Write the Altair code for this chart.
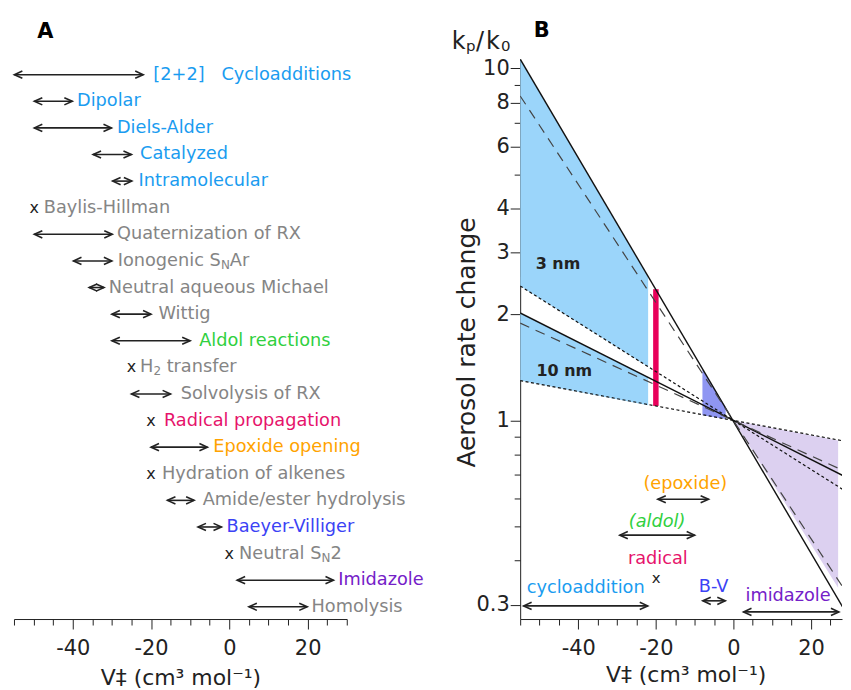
import altair as alt
import pandas as pd

FONT = "DejaVu Sans"
INK = "#222222"
BLUE = "#1a9cf0"
GREY = "#858585"
GREEN = "#30d040"
PINK = "#e6136b"
ORANGE = "#ffa300"
BVC = "#3b42f5"
PURPLE = "#7420c8"

# ---------------- Panel A data ----------------
a_labels = [
    "[2+2]\u00a0\u00a0\u00a0Cycloadditions", "Dipolar", "Diels-Alder", "Catalyzed", "Intramolecular",
    "Baylis-Hillman", "Quaternization of RX", "Ionogenic S|N|Ar", "Neutral aqueous Michael", "Wittig",
    "Aldol reactions", "H|2| transfer", "Solvolysis of RX", "Radical propagation", "Epoxide opening",
    "Hydration of alkenes", "Amide/ester hydrolysis", "Baeyer-Villiger", "Neutral S|N|2", "Imidazole",
    "Homolysis",
]
a_kind = ["arrow", "arrow", "arrow", "arrow", "arrow", "x", "arrow", "arrow", "arrow", "arrow",
          "arrow", "x", "arrow", "x", "arrow", "x", "arrow", "arrow", "x", "arrow", "arrow"]
a_lo = [-54.9, -49.8, -49.8, -34.8, -29.8, -49.8, -49.8, -39.8, -35.8, -30.0,
        -30.0, -25.0, -25.0, -20.0, -20.0, -20.0, -15.8, -8.0, 0.0, 2.0, 5.0]
a_hi = [-22.0, -40.1, -30.1, -25.0, -24.9, -49.8, -29.9, -30.0, -32.0, -20.0,
        -10.0, -25.0, -15.0, -20.0, -5.6, -20.0, -9.0, -2.0, 0.0, 26.6, 19.9]
a_label_x = [-19.4, -38.9, -28.7, -22.8, -23.2, -47.4, -28.7, -28.5, -30.8, -18.1,
             -7.7, -22.8, -12.4, -16.7, -4.1, -17.2, -6.8, -0.7, 2.5, 27.8, 21.0]
a_color = [BLUE] * 5 + [GREY] * 5 + [GREEN] + [GREY] * 2 + [PINK, ORANGE, GREY, GREY, BVC, GREY, PURPLE, GREY]

# ---------------- Panel B data ----------------
line_names = ["L1", "L2", "L3", "L4", "L5", "L6"]
line_style = ["solid", "dashed", "dotted", "solid", "dashed", "dotted"]
line_v = [-55, 30]
line_left = [10.63, 8.35, 2.41, 2.02, 1.89, 1.298]     # k at V = -55
line_right = [0.273, 0.314, 0.619, 0.682, 0.707, 0.868]  # k at V = 30

fill_names = ["3 nm", "10 nm", "B-V", "imidazole"]
fill_x0 = [-55, -55, -8.0, 0.0]
fill_x1 = [-22.0, -22.0, -2.0, 27.0]
fill_top0 = [10.63, 2.02, 1.40, 1.0]
fill_top1 = [2.56, 1.33, 1.09, 0.878]
fill_bot0 = [2.41, 1.30, 1.035, 1.0]
fill_bot1 = [1.42, 1.105, 1.01, 0.335]
fill_color = ["#9bd5fa", "#9bd5fa", "#8f96f2", "#dcd0f0"]

radical_v = -20.0
radical_lo, radical_hi = 1.10, 2.36

ann_text = ["(epoxide)", "(aldol)", "radical", "cycloaddition", "B-V", "imidazole"]
ann_x = [-12.4, -19.7, -19.5, -38.1, -5.1, 14.1]
ann_y = [0.658, 0.5156, 0.405, 0.334, 0.336, 0.3175]
ann_color = [ORANGE, GREEN, PINK, BLUE, BVC, PURPLE]

barr_lo = [-19.5, -29.3, -54.1, -7.9, 2.6]
barr_hi = [-6.4, -10.0, -22.1, -2.1, 27.2]
barr_y = [0.5975, 0.4725, 0.2975, 0.3075, 0.286]

radical_mark_x, radical_mark_y = [-19.9], [0.358]

size_text = ["3 nm", "10 nm"]
size_x = [-51.0, -50.8]
size_y = [2.787, 1.379]

# ---------------- layout helpers ----------------
A_W, A_H = 334, 562
B_W, B_H = 323, 562
B_XMAX = 28
FS = 17.8
FS_SUB = 12
ADV = {"I": .295, "o": .612, "n": .634, "g": .635, "e": .615, "i": .278, "c": .550, " ": .318,
       "\u00a0": .318, "S": .635, "N": .748, "H": .752, "2": .636, "u": .634, "t": .392, "r": .411,
       "a": .613, "l": .278}


def text_w(s, fs):
    return sum(ADV.get(ch, 0.6) for ch in s) * fs


LEFT_HEAD = "M2,-0.9L0,0L2,0.9"
RIGHT_HEAD = "M-2,-0.9L0,0L-2,0.9"

xsA = alt.Scale(domain=[-55, 30], nice=False, zero=False)
ysA = alt.Scale(domain=[-0.588, 20.46], reverse=True, nice=False, zero=False)
xsB = alt.Scale(domain=[-55, B_XMAX], nice=False, zero=False)
ysB = alt.Scale(type="log", domain=[0.273, 10.63], nice=False)

major_x = [-40, -20, 0, 20]
XTITLE = "V\u2021 (cm\u00b3 mol\u207b\u00b9)"


def x_major_axis(title_y, title_x=None):
    kw = dict(orient="bottom", values=major_x, tickSize=10, labelPadding=9,
              labelExpr="'' + datum.value", title=XTITLE, titleFontSize=22,
              titleY=title_y, titleBaseline="alphabetic", grid=False, labelFlush=False)
    if title_x is not None:
        kw["titleX"] = title_x
        kw["titleAlign"] = "center"
    return alt.Axis(**kw)


def x_minor_axis(xmax):
    vals = [v for v in range(-55, xmax + 1, 5) if v not in major_x]
    return alt.Axis(orient="bottom", values=vals, tickSize=6, labels=False, domain=False,
                    title=None, grid=False)


# ---------------- Panel A ----------------
rows = list(range(len(a_labels)))
arrA = pd.DataFrame([{"row": r, "lo": a_lo[r], "hi": a_hi[r]} for r in rows if a_kind[r] == "arrow"])
mkA = pd.DataFrame([{"row": r, "v": a_lo[r]} for r in rows if a_kind[r] == "x"])

segs = []
for r in rows:
    parts = a_labels[r].split("|")
    off = 0.0
    for j, p in enumerate(parts):
        sub = (j % 2 == 1)
        fs = FS_SUB if sub else FS
        lead = len(p) - len(p.lstrip(" "))
        off += lead * ADV[" "] * FS
        p = p.lstrip(" ")
        segs.append({"row": r, "v": a_label_x[r] + off * 85.0 / A_W, "t": p, "c": a_color[r], "sub": sub})
        off += text_w(p, fs)
segs = pd.DataFrame(segs)

yA = alt.Y("row:Q", scale=ysA, axis=None)

a_rule = alt.Chart(arrA).mark_rule(color=INK, strokeWidth=1.6).encode(
    x=alt.X("lo:Q", scale=xsA, axis=x_major_axis(66)), x2="hi:Q", y=yA)
a_lh = alt.Chart(arrA).mark_point(shape=LEFT_HEAD, filled=False, size=64, strokeWidth=1.6,
                                  color=INK, opacity=1).encode(
    x=alt.X("lo:Q", scale=xsA, axis=x_minor_axis(30)), y=yA)
a_rh = alt.Chart(arrA).mark_point(shape=RIGHT_HEAD, filled=False, size=64, strokeWidth=1.6,
                                  color=INK, opacity=1).encode(
    x=alt.X("hi:Q", scale=xsA, axis=None), y=yA)
a_x = alt.Chart(mkA).mark_text(text="x", fontSize=16, color=INK, baseline="middle").encode(
    x=alt.X("v:Q", scale=xsA, axis=None), y=yA)
a_main = alt.Chart(segs[~segs["sub"]]).mark_text(align="left", baseline="middle", fontSize=FS).encode(
    x=alt.X("v:Q", scale=xsA, axis=None), y=yA, text="t:N", color=alt.Color("c:N", scale=None))
a_sub = alt.Chart(segs[segs["sub"]]).mark_text(align="left", baseline="middle", fontSize=FS_SUB, dy=4).encode(
    x=alt.X("v:Q", scale=xsA, axis=None), y=yA, text="t:N", color=alt.Color("c:N", scale=None))
a_tag = alt.Chart(pd.DataFrame({"t": ["A"]})).mark_text(
    fontSize=21, fontWeight="bold", align="left", baseline="alphabetic", color="#000").encode(
    x=alt.value(23.3), y=alt.value(-21), text="t:N")

panelA = alt.layer(a_rule, a_lh, a_rh, a_x, a_main, a_sub, a_tag).resolve_axis(
    x="independent").properties(width=A_W, height=A_H)

# ---------------- Panel B ----------------
lines_df = pd.DataFrame(
    [{"name": n, "V": line_v[0], "k": line_left[i], "style": line_style[i]} for i, n in enumerate(line_names)] +
    [{"name": n, "V": line_v[1], "k": line_right[i], "style": line_style[i]} for i, n in enumerate(line_names)])
fills_df = pd.DataFrame(
    [{"name": n, "V": fill_x0[i], "top": fill_top0[i], "bot": fill_bot0[i], "c": fill_color[i]}
     for i, n in enumerate(fill_names)] +
    [{"name": n, "V": fill_x1[i], "top": fill_top1[i], "bot": fill_bot1[i], "c": fill_color[i]}
     for i, n in enumerate(fill_names)])
ann_df = pd.DataFrame({"t": ann_text, "x": ann_x, "y": ann_y, "c": ann_color})
barr_df = pd.DataFrame({"lo": barr_lo, "hi": barr_hi, "y": barr_y})

y_major_axis = alt.Axis(orient="left", values=[0.3, 1, 2, 3, 4, 6, 8, 10], tickSize=10, labelPadding=1,
                        labelExpr="'' + datum.value", labelOverlap=False, title="Aerosol rate change",
                        titleFontSize=25, titleX=-45.5, titleY=284, titleAngle=270,
                        titleBaseline="alphabetic", titleAlign="center", grid=False)
y_minor_axis = alt.Axis(orient="left", values=[0.4, 0.5, 0.6, 0.7, 0.8, 0.9, 5, 7, 9], tickSize=6,
                        labels=False, domain=False, title=None, grid=False)

xB = alt.X("V:Q", scale=xsB, axis=None)

b_fill = alt.Chart(fills_df).mark_area(opacity=1, clip=True).encode(
    x=xB, y=alt.Y("top:Q", scale=ysB, axis=None), y2="bot:Q",
    color=alt.Color("c:N", scale=None), detail="name:N")
b_pink = alt.Chart(pd.DataFrame({"V": [radical_v], "lo": [radical_lo], "hi": [radical_hi]})).mark_rule(
    color="#e8005a", strokeWidth=5.5, strokeCap="butt").encode(
    x=xB, y=alt.Y("lo:Q", scale=ysB, axis=None), y2="hi:Q")
b_solid = alt.Chart(lines_df[lines_df["style"] == "solid"]).mark_line(
    color="#111111", strokeWidth=1.4, clip=True).encode(
    x=alt.X("V:Q", scale=xsB, axis=x_major_axis(63, 166)),
    y=alt.Y("k:Q", scale=ysB, axis=y_major_axis), detail="name:N")
b_dash = alt.Chart(lines_df[lines_df["style"] == "dashed"]).mark_line(
    color="#444444", strokeWidth=1.2, strokeDash=[10, 7], clip=True).encode(
    x=alt.X("V:Q", scale=xsB, axis=x_minor_axis(B_XMAX)),
    y=alt.Y("k:Q", scale=ysB, axis=y_minor_axis), detail="name:N")
b_dot = alt.Chart(lines_df[lines_df["style"] == "dotted"]).mark_line(
    color="#111111", strokeWidth=1.2, strokeDash=[3, 2.5], clip=True).encode(
    x=xB, y=alt.Y("k:Q", scale=ysB, axis=None), detail="name:N")

yBann = alt.Y("y:Q", scale=ysB, axis=None)
xBann = alt.X("x:Q", scale=xsB, axis=None)
b_ann = alt.Chart(ann_df[ann_df["t"] != "(aldol)"]).mark_text(fontSize=FS, baseline="middle").encode(
    x=xBann, y=yBann, text="t:N", color=alt.Color("c:N", scale=None))
b_ann_it = alt.Chart(ann_df[ann_df["t"] == "(aldol)"]).mark_text(
    fontSize=FS, baseline="middle", fontStyle="italic").encode(
    x=xBann, y=yBann, text="t:N", color=alt.Color("c:N", scale=None))
b_rule = alt.Chart(barr_df).mark_rule(color=INK, strokeWidth=1.6).encode(
    x=alt.X("lo:Q", scale=xsB, axis=None), x2="hi:Q", y=yBann)
b_lh = alt.Chart(barr_df).mark_point(shape=LEFT_HEAD, filled=False, size=64, strokeWidth=1.6,
                                     color=INK, opacity=1).encode(
    x=alt.X("lo:Q", scale=xsB, axis=None), y=yBann)
b_rh = alt.Chart(barr_df).mark_point(shape=RIGHT_HEAD, filled=False, size=64, strokeWidth=1.6,
                                     color=INK, opacity=1).encode(
    x=alt.X("hi:Q", scale=xsB, axis=None), y=yBann)
b_x = alt.Chart(pd.DataFrame({"x": radical_mark_x, "y": radical_mark_y})).mark_text(
    text="x", fontSize=15, color=INK, baseline="middle").encode(x=xBann, y=yBann)
b_size = alt.Chart(pd.DataFrame({"t": size_text, "x": size_x, "y": size_y})).mark_text(
    fontSize=16, fontWeight="bold", align="left", baseline="middle", color=INK).encode(
    x=xBann, y=yBann, text="t:N")

b_tag = alt.Chart(pd.DataFrame({"t": ["B"]})).mark_text(
    fontSize=21, fontWeight="bold", align="left", baseline="alphabetic", color="#000").encode(
    x=alt.value(13.7), y=alt.value(-22), text="t:N")

# k_p / k_0 label pieces: text, x(px rel. plot), baseline y(px rel. plot), font size
kp_text = ["k", "p", "/", "k", "0"]
kp_px = [-68.6, -54.3, -44.3, -34.3, -19.3]
kp_py = [-10.3, -7.8, -10.3, -10.3, -8.5]
kp_fs = [24, 15, 24, 24, 15]
kp_layers = []
for t, px, py, fs in zip(kp_text, kp_px, kp_py, kp_fs):
    kp_layers.append(alt.Chart(pd.DataFrame({"t": [t]})).mark_text(
        fontSize=fs, align="left", baseline="alphabetic", color=INK).encode(
        x=alt.value(px), y=alt.value(py), text="t:N"))

panelB = alt.layer(b_fill, b_pink, b_solid, b_dash, b_dot, b_rule, b_lh, b_rh, b_x, b_ann, b_ann_it,
                   b_size, b_tag, *kp_layers).resolve_axis(
    x="independent", y="independent").properties(width=B_W, height=B_H)

chart = alt.hconcat(panelA, panelB, spacing=174, bounds="flush").properties(
    padding={"left": 3, "top": 11, "right": 0, "bottom": 0},
    background="white",
).configure_view(stroke=None).configure_axis(
    labelFont=FONT, labelFontSize=21, labelColor=INK, titleFont=FONT, titleFontWeight="normal",
    titleColor=INK, domainColor=INK, tickColor=INK, domainWidth=1, tickWidth=1, grid=False,
).configure_text(font=FONT)

chart.save("out.html", embed_options={"renderer": "svg", "actions": False})
